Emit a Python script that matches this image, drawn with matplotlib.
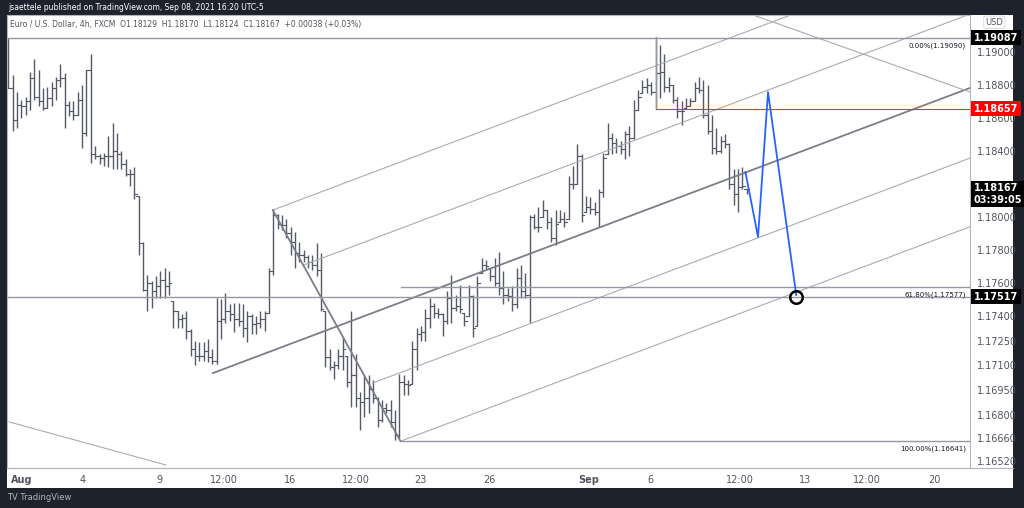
import matplotlib
matplotlib.use("Agg")
import matplotlib.pyplot as plt
import matplotlib.transforms as mtransforms
from matplotlib.patches import Rectangle

highs = [1.1908,1.1886,1.1876,1.1871,1.1873,1.1888,1.1896,1.1889,1.1878,1.1879,1.1882,1.1885,1.1893,1.1887,1.1870,1.1870,1.1876,1.1880,1.1889,1.1899,
1.1843,1.1838,1.1839,1.1849,1.1857,1.1851,1.1840,1.1835,1.1829,1.1830,1.1813,1.1785,1.1765,1.1761,1.1764,1.1767,1.1769,1.1767,1.1749,1.1743,
1.1741,1.1743,1.1732,1.1725,1.1724,1.1724,1.1726,1.1720,1.1751,1.1750,1.1754,1.1747,1.1748,1.1748,1.1747,1.1743,1.1741,1.1740,1.1743,1.1743,
1.1769,1.1805,1.1802,1.1801,1.1799,1.1794,1.1791,1.1785,1.1780,1.1777,1.1777,1.1784,1.1778,1.1743,1.1720,1.1713,1.1720,1.1727,1.1716,1.1743,
1.1717,1.1694,1.1704,1.1704,1.1701,1.1691,1.1689,1.1687,1.1689,1.1683,1.1705,1.1704,1.1701,1.1725,1.1733,1.1734,1.1744,1.1751,1.1748,1.1745,
1.1742,1.1755,1.1765,1.1753,1.1759,1.1742,1.1759,1.1753,1.1764,1.1775,1.1774,1.1769,1.1775,1.1779,1.1767,1.1757,1.1758,1.1769,1.1771,1.1766,
1.1801,1.1802,1.1806,1.1810,1.1804,1.1800,1.1804,1.1804,1.1803,1.1825,1.1831,1.1844,1.1838,1.1813,1.1812,1.1809,1.1817,1.1839,1.1857,1.1851,
1.1848,1.1846,1.1852,1.1855,1.1871,1.1877,1.1883,1.1884,1.1882,1.1909,1.1904,1.1899,1.1885,1.1880,1.1873,1.1870,1.1872,1.1872,1.1882,1.1885,
1.1883,1.1880,1.1862,1.1854,1.1849,1.1850,1.1845,1.1829,1.1829,1.1830,1.1817]
lows = [1.1878,1.1852,1.1854,1.1860,1.1862,1.1865,1.1871,1.1867,1.1865,1.1866,1.1867,1.1871,1.1879,1.1854,1.1861,1.1859,1.1862,1.1842,1.1849,1.1833,
1.1835,1.1832,1.1831,1.1830,1.1829,1.1829,1.1829,1.1825,1.1819,1.1811,1.1777,1.1755,1.1743,1.1745,1.1751,1.1751,1.1751,1.1753,1.1733,1.1733,
1.1733,1.1726,1.1716,1.1710,1.1713,1.1713,1.1712,1.1711,1.1711,1.1726,1.1736,1.1737,1.1730,1.1734,1.1727,1.1724,1.1729,1.1729,1.1733,1.1731,
1.1742,1.1765,1.1793,1.1792,1.1787,1.1777,1.1769,1.1773,1.1773,1.1769,1.1768,1.1764,1.1743,1.1709,1.1707,1.1702,1.1708,1.1707,1.1697,1.1685,
1.1685,1.1671,1.1679,1.1681,1.1687,1.1673,1.1676,1.1681,1.1673,1.1665,1.1666,1.1692,1.1692,1.1699,1.1707,1.1725,1.1725,1.1733,1.1739,1.1739,
1.1728,1.1735,1.1736,1.1743,1.1742,1.1734,1.1740,1.1727,1.1734,1.1766,1.1768,1.1761,1.1758,1.1753,1.1747,1.1749,1.1743,1.1745,1.1751,1.1751,
1.1736,1.1793,1.1791,1.1800,1.1793,1.1785,1.1783,1.1797,1.1794,1.1799,1.1817,1.1820,1.1797,1.1803,1.1802,1.1801,1.1794,1.1812,1.1838,1.1838,
1.1839,1.1838,1.1835,1.1837,1.1847,1.1865,1.1875,1.1875,1.1874,1.1866,1.1872,1.1876,1.1876,1.1869,1.1860,1.1856,1.1866,1.1867,1.1870,1.1875,
1.1860,1.1850,1.1838,1.1838,1.1839,1.1842,1.1817,1.1807,1.1803,1.1817,1.1814]
closes = [1.1878,1.1859,1.1868,1.1867,1.1870,1.1884,1.1873,1.1870,1.1866,1.1872,1.1878,1.1883,1.1884,1.1868,1.1864,1.1862,1.1871,1.1851,1.1889,1.1838,
1.1837,1.1836,1.1837,1.1837,1.1840,1.1838,1.1832,1.1826,1.1826,1.1814,1.1784,1.1756,1.1760,1.1755,1.1758,1.1762,1.1758,1.1760,1.1743,1.1738,
1.1739,1.1731,1.1720,1.1716,1.1716,1.1719,1.1715,1.1713,1.1737,1.1738,1.1743,1.1741,1.1738,1.1737,1.1733,1.1740,1.1735,1.1736,1.1738,1.1742,
1.1767,1.1801,1.1796,1.1795,1.1790,1.1785,1.1778,1.1777,1.1776,1.1773,1.1771,1.1768,1.1744,1.1715,1.1709,1.1710,1.1716,1.1720,1.1700,1.1704,
1.1690,1.1688,1.1690,1.1696,1.1690,1.1677,1.1684,1.1683,1.1676,1.1668,1.1700,1.1699,1.1698,1.1720,1.1729,1.1730,1.1739,1.1746,1.1742,1.1741,
1.1737,1.1751,1.1745,1.1746,1.1744,1.1737,1.1752,1.1733,1.1760,1.1771,1.1770,1.1764,1.1760,1.1757,1.1753,1.1752,1.1747,1.1763,1.1755,1.1753,
1.1800,1.1794,1.1794,1.1804,1.1797,1.1787,1.1796,1.1799,1.1797,1.1820,1.1820,1.1837,1.1801,1.1806,1.1805,1.1803,1.1815,1.1836,1.1848,1.1845,
1.1843,1.1841,1.1850,1.1848,1.1865,1.1873,1.1879,1.1880,1.1876,1.1887,1.1888,1.1879,1.1880,1.1871,1.1864,1.1864,1.1867,1.1870,1.1878,1.1877,
1.1862,1.1852,1.1842,1.1840,1.1846,1.1844,1.1820,1.1814,1.1818,1.1819,1.1817]

xtick_pos = [3, 17.2, 34.7, 49.7, 64.8, 80, 94.9, 110.8, 133.6, 147.8, 168.5, 183.4, 197.7, 213.3]
xtick_labels = ["Aug", "4", "9", "12:00", "16", "12:00", "23", "26", "Sep", "6", "12:00", "13", "12:00", "20"]
ytick_vals = [1.19000, 1.18800, 1.18600, 1.18400, 1.18000, 1.17800, 1.17600, 1.17400,
              1.17250, 1.17100, 1.16950, 1.16800, 1.16660, 1.16520]

fig = plt.figure(figsize=(10.24, 5.08), dpi=100, facecolor="#1e222d")
W, H = 1024, 508
fig.patches.append(Rectangle((7/W, (H-488)/H), (1013-7)/W, (488-15)/H, transform=fig.transFigure,
                             facecolor="white", edgecolor="none", zorder=-10))
ax = fig.add_axes([7/W, (H-468)/H, (970-7)/W, (468-15)/H])
ax.set_facecolor("white")
ax.set_xlim(-0.3, 221.4)
ax.set_ylim(1.16497 - 3*6.06e-5, 1.19224)
for s in ax.spines.values():
    s.set_color("#b2b5be"); s.set_linewidth(0.8)

bc = "#555a66"
for i, (h, l, c) in enumerate(zip(highs, lows, closes)):
    o = closes[i-1] if i > 0 else h
    o = min(max(o, l), h)
    ax.plot([i, i], [l, h], color=bc, lw=1.0, solid_capstyle="butt")
    ax.plot([i-0.55, i], [o, o], color=bc, lw=0.8)
    ax.plot([i, i+0.55], [c, c], color=bc, lw=0.8)

lg = "#a9abb0"
slope = (1.18782 - 1.17054) / (221.4 - 47.1)
X1 = 240
ax.plot([47.1, X1], [1.17054, 1.17054 + slope*(X1-47.1)], color="#7b7e88", lw=1.3)
for x0, p0 in [(60.9, 1.18042), (68, 1.17709), (83.9, 1.16994), (90.3, 1.16641)]:
    ax.plot([x0, X1], [p0, p0 + slope*(X1-x0)], color=lg, lw=0.8)
ax.plot([60.9, 90.3], [1.18042, 1.16641], color="#7b7e88", lw=1.3)
ax.plot([0.2, 36.3], [1.16758, 1.16497], color=lg, lw=0.8)
ax.plot([171.5, 221.4], [1.19224, 1.18757], color=lg, lw=0.8)

ax.axhline(1.19087, color="#9598a1", lw=1.0)
ax.axhline(1.17517, color="#9598a1", lw=1.0)
ax.plot([149, 149], [1.18657, 1.19090], color="#9598a1", lw=1.0)
ax.plot([149, 221.4], [1.18657, 1.18657], color="#ff2a2a", lw=0.8)
ax.plot([90.3, 221.4], [1.17577, 1.17577], color="#9598a1", lw=1.0)
ax.plot([90.3, 221.4], [1.16641, 1.16641], color="#9598a1", lw=1.0)
fk = dict(fontsize=5, color="#131722", ha="right", va="top")
ax.text(220.5, 1.19060, "0.00%(1.19090)", **fk)
ax.text(220.5, 1.17550, "61.80%(1.17577)", **fk)
ax.text(220.5, 1.16614, "100.00%(1.16641)", **fk)

ax.plot([169.7, 172.6, 174.9, 181.4], [1.18272, 1.17879, 1.18757, 1.17527], color="#2962ff", lw=1.3)
ax.plot([181.4], [1.17517], marker="o", ms=9, mfc="none", mec="black", mew=1.8)

ax.yaxis.tick_right()
ax.set_yticks(ytick_vals)
ax.set_yticklabels([f"{v:.5f}" for v in ytick_vals])
ax.tick_params(axis="y", length=0, pad=5, labelsize=7, labelcolor="#50535e")
ax.set_xticks(xtick_pos)
ax.set_xticklabels(xtick_labels)
ax.tick_params(axis="x", length=0, pad=5, labelsize=7, labelcolor="#50535e")
ax.get_xticklabels()[0].set_fontweight("bold")
ax.get_xticklabels()[8].set_fontweight("bold")

tr = mtransforms.blended_transform_factory(ax.transAxes, ax.transData)
bk = dict(fontsize=7, color="white", ha="left", va="center", transform=tr, fontweight="bold", clip_on=False)
ax.text(1.004, 1.19087, "1.19087", bbox=dict(boxstyle="square,pad=0.25", fc="black", ec="none"), **bk)
ax.text(1.004, 1.18657, "1.18657", bbox=dict(boxstyle="square,pad=0.25", fc="#ff0000", ec="none"), **bk)
ax.text(1.004, 1.17517, "1.17517", bbox=dict(boxstyle="square,pad=0.25", fc="black", ec="none"), **bk)
ax.text(1.004, 1.18140, "1.18167\n03:39:05", linespacing=1.2,
        bbox=dict(boxstyle="square,pad=0.25", fc="black", ec="none"), **bk)
ax.text(1.016, 1.19180, "USD", fontsize=6, color="#50535e", ha="left", va="center", transform=tr,
        clip_on=False, bbox=dict(boxstyle="round,pad=0.2", fc="white", ec="#d1d4dc", lw=0.6))

fig.text(8/W, 1-7/H, "jsaettele published on TradingView.com, Sep 08, 2021 16:20 UTC-5",
         fontsize=5.5, color="white", va="center")
fig.text(10/W, 1-24/H, "Euro / U.S. Dollar, 4h, FXCM  O1.18129  H1.18170  L1.18124  C1.18167  +0.00038 (+0.03%)",
         fontsize=5.5, color="#50535e", va="center")
fig.text(7/W, 1-498/H, "TV TradingView", fontsize=6, color="#b2b5be", va="center")
fig.lines.append(plt.Line2D([7/W, 1013/W], [(H-468)/H]*2, transform=fig.transFigure, color="#b2b5be", lw=0.8))

fig.savefig("out.png", dpi=100, facecolor=fig.get_facecolor())
